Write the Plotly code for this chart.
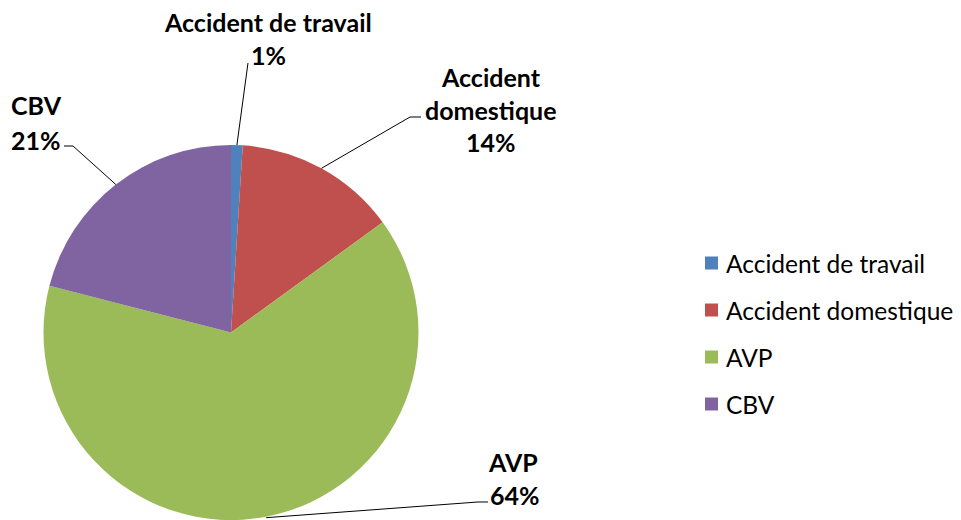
import math
import plotly.graph_objects as go

W, H = 961, 520

categories = ["Accident de travail", "Accident domestique", "AVP", "CBV"]
values = [1, 14, 64, 21]
colors = ["#4F81BD", "#C0504D", "#9BBB59", "#8064A2"]
label_lines = [["Accident de travail", "1%"], ["Accident", "domestique", "14%"], ["AVP", "64%"], ["CBV", "21%"]]

# pie geometry (pixels)
cx, cy, r = 231, 333, 188
dom_x = [(cx - r) / W, (cx + r) / W]
dom_y = [max(0, (H - cy - r) / H), min(1, (H - cy + r) / H)]

def px(x):
    return x / W

def py(y):
    return 1 - y / H

fig = go.Figure(go.Pie(
    labels=categories, values=values, sort=False, direction="clockwise", rotation=0,
    marker=dict(colors=colors, line=dict(width=0)),
    textinfo="none", hoverinfo="label+percent", showlegend=False,
    domain=dict(x=dom_x, y=dom_y),
))

# label text positions (pixels) and leader line elbows
label_pos = [
    [(268, 22), (268, 55)],
    [(491, 77), (491, 110), (491, 142)],
    [(513, 462), (515, 495)],
    [(36, 105), (36, 140)],
]
elbows = [
    [(248, 63)],
    [(410, 117), (421, 117)],
    [(478, 502), (488, 502)],
    [(73, 146), (64, 146)],
]

annotations = []
shapes = []
total = sum(values)
cum = 0
for i, v in enumerate(values):
    mid = (cum + v / 2) / total * 2 * math.pi
    cum += v
    sx = cx + r * math.sin(mid)
    sy = cy - r * math.cos(mid)
    pts = [(sx, sy)] + elbows[i]
    path = "M " + " L ".join(f"{px(x):.5f},{py(y):.5f}" for x, y in pts)
    shapes.append(dict(type="path", xref="paper", yref="paper", path=path,
                       line=dict(color="black", width=1)))
    for text, (lx, ly) in zip(label_lines[i], label_pos[i]):
        annotations.append(dict(text=f"<b>{text}</b>", x=px(lx), y=py(ly), xref="paper", yref="paper",
                                showarrow=False, xanchor="center", yanchor="middle",
                                font=dict(family="Lato", size=25, color="black")))

# manual legend
leg_y = [263, 310, 357, 404]
for cat, col, ly in zip(categories, colors, leg_y):
    shapes.append(dict(type="rect", xref="paper", yref="paper",
                       x0=px(705), x1=px(718), y0=py(ly - 6.5), y1=py(ly + 6.5),
                       fillcolor=col, line=dict(width=0)))
    annotations.append(dict(text=cat, x=px(724), y=py(ly), xref="paper", yref="paper",
                            showarrow=False, xanchor="left", yanchor="middle",
                            font=dict(family="Lato", size=24.5, color="black")))

fig.update_layout(
    width=W, height=H, margin=dict(l=0, r=0, t=0, b=0),
    paper_bgcolor="white", plot_bgcolor="white",
    shapes=shapes, annotations=annotations,
)

fig.write_html("out.html", config={"displayModeBar": False},
               post_script="document.body.style.margin='0';document.body.style.overflow='hidden';")
